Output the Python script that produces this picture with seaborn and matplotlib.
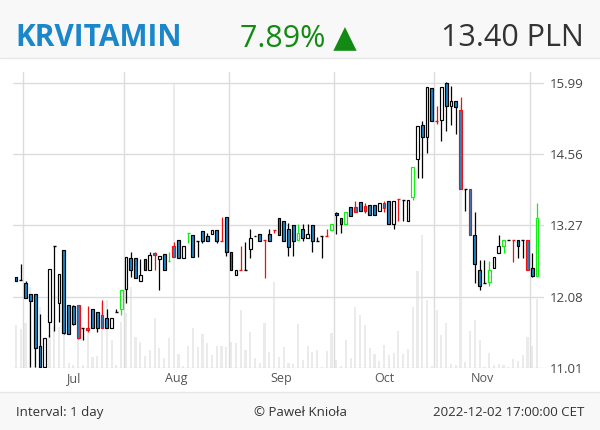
import numpy as np
import pandas as pd
import matplotlib
matplotlib.use("Agg")
import matplotlib.pyplot as plt
from matplotlib.lines import Line2D
from matplotlib.patches import Rectangle
import seaborn as sns

# ── Data ─────────────────────────────────────────────────────────────────────
TICKER = "KRVITAMIN"
HOLIDAYS = ["2022-08-15", "2022-11-01", "2022-11-11"]   # WSE closed
dates = pd.bdate_range("2022-06-29", "2022-12-02")
dates = dates[~dates.isin(pd.to_datetime(HOLIDAYS))]

open_ = [12.40, 12.35, 12.30, 12.13, 12.13, 11.33, 11.03, 11.69, 12.92, 11.99,
         12.85, 11.96, 11.94, 11.96, 11.60, 11.60, 11.90, 11.84, 11.80, 11.76,
         11.60, 11.85, 11.90, 12.21, 12.71, 12.71, 12.33, 12.70, 12.51, 12.80,
         12.70, 12.79, 12.66, 12.91, 13.01, 12.72, 13.14, 13.11, 13.00, 13.18,
         13.09, 13.12, 13.19, 13.00, 13.41, 12.81, 12.43, 12.52, 12.52, 12.86,
         13.09, 13.12, 13.01, 13.12, 13.19, 13.39, 13.35, 13.20, 13.28, 13.02,
         13.20, 13.06, 13.28, 13.00, 13.08, 13.08, 13.19, 13.49, 13.39, 13.30,
         13.59, 13.60, 13.69, 13.61, 13.62, 13.62, 13.53, 13.66, 13.70, 13.30,
         13.74, 13.71, 13.34, 13.77, 14.47, 15.13, 14.90, 15.88, 15.22, 15.24,
         15.99, 15.52, 15.62, 15.44, 13.91, 13.91, 13.11, 12.51, 12.31, 12.32,
         12.55, 12.80, 12.92, 13.01, 13.01, 13.01, 13.01, 13.01, 12.55, 12.42]
high = [12.41, 12.61, 12.33, 12.13, 12.13, 11.82, 11.45, 12.53, 12.92, 12.45,
        12.85, 11.96, 11.96, 11.96, 11.60, 11.94, 11.90, 11.84, 12.04, 11.89,
        11.75, 11.89, 12.20, 12.73, 12.82, 12.71, 12.70, 12.70, 12.82, 12.81,
        12.75, 12.79, 12.81, 12.99, 13.01, 12.91, 13.14, 13.11, 13.00, 13.18,
        13.13, 13.19, 13.19, 13.41, 13.41, 12.81, 12.51, 12.92, 12.98, 13.20,
        13.09, 13.12, 13.01, 13.20, 13.19, 13.39, 13.35, 13.31, 13.28, 13.30,
        13.30, 13.30, 13.28, 13.07, 13.08, 13.20, 13.30, 13.50, 13.39, 13.51,
        13.59, 13.70, 13.69, 13.67, 13.62, 13.62, 13.66, 13.70, 13.70, 13.70,
        13.74, 13.71, 13.71, 14.32, 15.11, 15.22, 15.90, 15.88, 15.52, 15.90,
        16.00, 15.92, 15.62, 15.70, 13.91, 13.91, 13.50, 12.69, 12.69, 12.67,
        12.73, 13.11, 13.01, 13.01, 13.01, 13.01, 13.01, 13.01, 12.80, 13.66]
low = [12.33, 12.35, 12.06, 11.02, 11.02, 11.02, 11.02, 11.47, 11.56, 11.69,
       11.51, 11.51, 11.65, 11.44, 11.42, 11.54, 11.60, 11.54, 11.60, 11.60,
       11.60, 11.85, 11.80, 11.99, 12.40, 12.38, 12.33, 12.51, 12.51, 12.52,
       12.20, 12.51, 12.66, 12.73, 12.72, 12.72, 12.97, 12.74, 12.74, 12.97,
       13.00, 13.12, 12.97, 13.00, 12.75, 12.51, 12.43, 12.52, 12.52, 12.71,
       13.09, 13.00, 12.38, 13.00, 13.14, 13.10, 13.00, 12.75, 12.75, 13.02,
       13.00, 13.06, 12.81, 13.00, 12.71, 13.08, 13.19, 13.12, 13.14, 13.30,
       13.43, 13.51, 13.52, 13.49, 13.45, 13.45, 13.53, 13.51, 13.30, 13.20,
       13.34, 13.34, 13.34, 13.71, 14.11, 14.11, 14.58, 15.22, 15.15, 14.81,
       15.01, 15.14, 14.96, 13.91, 13.52, 13.11, 12.31, 12.20, 12.31, 12.25,
       12.55, 12.80, 12.80, 13.01, 12.65, 12.72, 12.72, 12.51, 12.40, 12.42]
close = [12.34, 12.35, 12.06, 12.02, 11.30, 11.03, 11.45, 12.53, 12.92, 12.45,
         11.52, 11.51, 11.66, 11.45, 11.60, 11.57, 11.60, 11.60, 11.60, 11.60,
         11.75, 11.85, 12.20, 12.73, 12.51, 12.38, 12.43, 12.51, 12.77, 12.77,
         12.75, 12.51, 12.66, 12.73, 12.72, 12.91, 13.14, 12.74, 13.00, 13.00,
         13.00, 13.19, 13.00, 13.00, 12.82, 12.51, 12.51, 12.52, 12.52, 13.06,
         13.09, 13.00, 13.01, 13.00, 13.19, 13.10, 13.00, 12.90, 13.00, 13.14,
         13.06, 13.12, 13.00, 13.00, 13.08, 13.08, 13.30, 13.45, 13.30, 13.51,
         13.43, 13.51, 13.52, 13.52, 13.45, 13.45, 13.66, 13.58, 13.30, 13.70,
         13.74, 13.71, 13.71, 14.32, 15.11, 14.90, 15.90, 15.22, 15.22, 15.90,
         15.52, 15.62, 15.50, 13.91, 13.91, 13.11, 12.61, 12.25, 12.31, 12.51,
         12.73, 12.92, 13.01, 13.01, 13.01, 12.92, 13.01, 12.51, 12.42, 13.40]
# thousands of shares (relative bar heights)
volume_k = [43, 39, 45, 81, 55, 61, 20, 33, 41, 41,
            45, 5, 3, 30, 3, 38, 11, 12, 65, 68,
            28, 3, 46, 55, 81, 31, 26, 12, 18, 50,
            20, 10, 30, 285, 14, 2, 22, 40, 21, 34,
            25, 13, 22, 22, 21, 26, 25, 58, 18, 36,
            10, 5, 45, 16, 86, 11, 21, 5, 4, 44,
            8, 22, 16, 18, 1, 17, 35, 8, 2, 28,
            10, 61, 53, 43, 20, 14, 7, 23, 13, 15,
            37, 14, 19, 61, 97, 133, 68, 2, 58, 33,
            45, 4, 3, 263, 6, 37, 48, 28, 1, 15,
            3, 4, 3, 1, 9, 7, 13, 31, 22, 69]
# 1 = green-marked session, -1 = red-marked session, 0 = plain
signal = [0, 0, 0, 0, 0, 0, 0, 0, 0, 0,
          0, 0, 0, -1, 0, -1, 0, 0, -1, 0,
          0, 0, 1, 0, 0, 0, 0, 0, 0, -1,
          0, 0, 1, -1, 0, 0, 1, 0, 0, 0,
          0, 0, 0, -1, 0, 0, 0, -1, 0, 0,
          0, 0, -1, 0, -1, 0, 0, 0, 0, 1,
          0, 0, 0, 0, 0, -1, 1, 0, 0, 1,
          0, -1, 0, -1, 0, 0, 0, -1, 0, 0,
          -1, 0, 0, 1, 0, 0, 0, 0, -1, 0,
          0, 0, 0, -1, 0, -1, 0, 0, 0, 1,
          0, 0, 1, 0, -1, 0, 0, -1, 0, 1]
price_ticks = [11.01, 12.08, 13.27, 14.56, 15.99]
last_price = 13.40
change_pct = 7.89

# ── Style ────────────────────────────────────────────────────────────────────
BLUE = "#1b87cb"
RED = "#ee1111"
GREEN = "#11ee11"
GRID = "#dcdcdc"
BAND = "#f8f8f8"

sns.set_theme(style="white")
plt.rcParams["font.family"] = ["Open Sans", "DejaVu Sans"]

W, H = 600, 430
fig = plt.figure(figsize=(W / 100, H / 100), dpi=100, facecolor="white")

def fy(px):          # pixel row -> figure fraction
    return 1 - px / H

# header / footer bands
fig.add_artist(Rectangle((0, fy(58)), 1, 58 / H, transform=fig.transFigure,
                         facecolor=BAND, edgecolor="none", zorder=0))
fig.add_artist(Rectangle((0, 0), 1, (H - 392) / H, transform=fig.transFigure,
                         facecolor=BAND, edgecolor="none", zorder=0))
fig.add_artist(Line2D([0, 1], [fy(58), fy(58)], color="#e8e8e8", lw=1))
fig.add_artist(Line2D([0, 1], [fy(392), fy(392)], color="#e8e8e8", lw=1))

rect = [13 / W, fy(368), (544 - 13) / W, (368 - 72) / H]
ax_vol = fig.add_axes(rect)
ax = fig.add_axes(rect, sharex=ax_vol)
ax.patch.set_visible(False)

df = pd.DataFrame({"date": dates, "open": open_, "high": high, "low": low,
                   "close": close, "volume": volume_k, "signal": signal})
df["x"] = np.arange(len(df))

# volume bars in the background
sns.barplot(data=df, x="x", y="volume", native_scale=True, color="#ebebeb",
            saturation=1, width=0.45, errorbar=None, linewidth=0, ax=ax_vol)
ax_vol.set_ylim(0, df["volume"].max() * 1.04)
ax_vol.set_axis_off()

# candles
edge = np.where(df["signal"] == 1, GREEN, np.where(df["signal"] == -1, RED, "black"))
ax.vlines(df["x"], df["low"], df["high"], colors=edge, lw=0.9, zorder=2)
body = (df["close"] != df["open"]).to_numpy()
fill = np.where(df["close"] < df["open"], BLUE, "white")
ax.bar(df["x"][body], (df["close"] - df["open"])[body], bottom=df["open"][body],
       width=0.58, color=fill[body], edgecolor=edge[body], linewidth=0.85, zorder=3)
doji = ~body
ax.hlines(df["open"][doji], df["x"][doji] - 0.3, df["x"][doji] + 0.3,
          colors=edge[doji], lw=1.0, zorder=3)

# y axis: log price scale, labels on the right
ax.set_yscale("log")
ax.set_ylim(price_ticks[0], 16.22)
ax.set_yticks(price_ticks)
ax.set_yticklabels([f"{t:.2f}" for t in price_ticks])
ax.yaxis.set_minor_locator(matplotlib.ticker.NullLocator())
ax.yaxis.tick_right()
ax.tick_params(axis="y", length=0, pad=4, labelsize=9.5, labelcolor="#444444")
ax.grid(axis="y", color=GRID, lw=1)

# x axis: month boundaries as grid, month names centred
month = df["date"].dt.month.to_numpy()
starts = np.flatnonzero(np.diff(month)) + 1
bounds = starts - 0.5
ax.set_xticks(bounds)
ax.set_xticklabels([""] * len(bounds))
ax.tick_params(axis="x", which="major", length=7.2, width=1, color=GRID, direction="out")
mids = (bounds[:-1] + bounds[1:]) / 2
ax.set_xticks(mids, minor=True)
ax.set_xticklabels([dates[s].strftime("%b") for s in starts[:-1]], minor=True)
ax.tick_params(axis="x", which="minor", length=0, pad=3, labelsize=9, labelcolor="#555555")
ax.grid(axis="x", which="major", color=GRID, lw=1)
ax.set_axisbelow(True)
ax.set_xlim(-0.63, 110.46)
for s in ax.spines.values():
    s.set_visible(False)
ax.set_xlabel("")
ax.set_ylabel("")

# header
fig.text(15 / W, fy(46), TICKER, fontsize=21.5, fontweight="bold", color=BLUE, va="baseline")
fig.text(240 / W, fy(46), f"{change_pct:.2f}% \u25b2", fontsize=22, color="#138a13", va="baseline")
fig.text(584 / W, fy(46), f"{last_price:.2f} PLN", fontsize=22, color="#333333",
         va="baseline", ha="right")

# footer
fig.text(16 / W, fy(416), "Interval: 1 day", fontsize=9.5, color="#333333", va="baseline")
fig.text(300 / W, fy(416), "\u00a9 Pawe\u0142 Knio\u0142a", fontsize=9.5, color="#333333",
         va="baseline", ha="center")
fig.text(584 / W, fy(416), "2022-12-02 17:00:00 CET", fontsize=9.5, color="#333333",
         va="baseline", ha="right")

fig.savefig("out.png", dpi=100)
